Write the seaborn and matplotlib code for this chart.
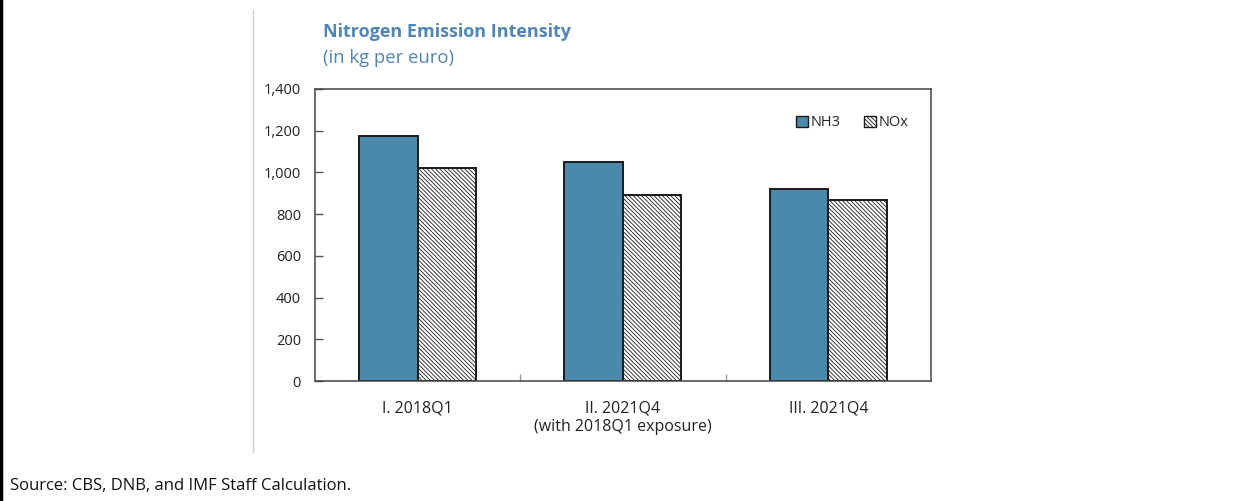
import matplotlib
matplotlib.use("Agg")
import matplotlib.pyplot as plt
import matplotlib.lines as mlines
import pandas as pd
import seaborn as sns
from matplotlib.patches import Patch

categories = ["I. 2018Q1", "II. 2021Q4\n(with 2018Q1 exposure)", "III. 2021Q4"]
nh3 = [1172, 1050, 922]
nox = [1022, 890, 866]
yticks = [0, 200, 400, 600, 800, 1000, 1200, 1400]

BLUE = "#4A89AC"
TITLE_BLUE = "#4F86B5"
HATCH = "\\\\\\\\\\\\\\\\"


def main():
    sns.set_theme(style="white")
    plt.rcParams["font.family"] = ["Open Sans", "DejaVu Sans"]
    plt.rcParams["hatch.color"] = "#4a4a4a"
    plt.rcParams["hatch.linewidth"] = 0.6

    df = pd.DataFrame({
        "category": categories * 2,
        "series": ["NH3"] * 3 + ["NOx"] * 3,
        "value": nh3 + nox,
    })

    fig = plt.figure(figsize=(12.38, 5.01), dpi=100)
    ax = fig.add_axes([0.2544, 0.2395, 0.4976, 0.583])

    sns.barplot(data=df, x="category", y="value", hue="series",
                palette={"NH3": BLUE, "NOx": "white"}, width=0.57, gap=0,
                saturation=1, edgecolor="#1a1a1a", linewidth=1.4,
                legend=False, ax=ax)

    for bar in ax.containers[1]:
        bar.set_hatch(HATCH)

    ax.set_ylim(0, 1400)
    ax.set_xlim(-0.5, 2.5)
    ax.set_yticks(yticks)
    ax.set_yticklabels([f"{v:,}" for v in yticks], fontsize=10.5, color="#222222")
    ax.tick_params(axis="y", direction="in", length=6, width=1, color="#555555",
                   left=True, pad=10)
    ax.tick_params(axis="x", length=0, pad=14, labelsize=11.5, labelcolor="#222222")
    ax.set_xticks([0.5, 1.5], minor=True)
    ax.tick_params(axis="x", which="minor", direction="in", length=5, width=1,
                   color="#999999", bottom=True)
    ax.set_xlabel("")
    ax.set_ylabel("")
    for s in ax.spines.values():
        s.set_color("#444444")
        s.set_linewidth(1.1)

    handles = [Patch(facecolor=BLUE, edgecolor="#1a1a1a", label="NH3"),
               Patch(facecolor="white", edgecolor="#1a1a1a", hatch=HATCH, label="NOx")]
    ax.legend(handles=handles, loc="upper right", ncol=2, frameon=False,
              fontsize=10.5, handlelength=0.8, handleheight=0.8, handletextpad=0.2,
              columnspacing=1.6, bbox_to_anchor=(0.985, 0.955))

    fig.text(0.261, 0.936, "Nitrogen Emission Intensity", fontsize=13,
             fontweight="bold", color=TITLE_BLUE, va="center", ha="left")
    fig.text(0.261, 0.884, "(in kg per euro)", fontsize=13.3,
             color=TITLE_BLUE, va="center", ha="left")
    fig.text(0.008, 0.03, "Source: CBS, DNB, and IMF Staff Calculation.",
             fontsize=12, color="#111111", va="center", ha="left")

    fig.add_artist(mlines.Line2D([0.204, 0.204], [0.098, 0.98],
                                 transform=fig.transFigure, color="#d0d0d0", lw=1))
    fig.add_artist(mlines.Line2D([0.0012, 0.0012], [0, 1],
                                 transform=fig.transFigure, color="black", lw=2.5))

    fig.savefig("out.png", dpi=100, facecolor="white")
    plt.close(fig)


if __name__ == "__main__":
    main()
